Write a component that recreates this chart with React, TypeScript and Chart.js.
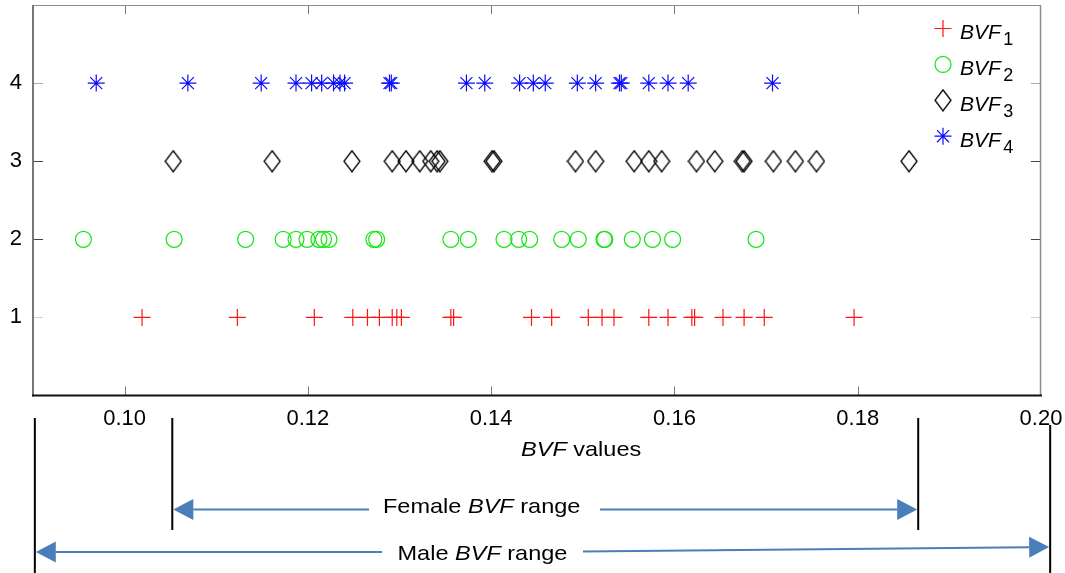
import React, { useEffect, useRef } from 'react';
import { Chart, registerables } from 'chart.js';

Chart.register(...registerables);

const FONT = '"Liberation Sans", Arial, Helvetica, sans-serif';

// ---- data ----
const xTicks = [0.1, 0.12, 0.14, 0.16, 0.18, 0.2];
const yTicks = [1, 2, 3, 4];
const seriesNames = ['BVF1', 'BVF2', 'BVF3', 'BVF4'];

const bvf1 = [0.1019, 0.1123, 0.1207, 0.1249, 0.1265, 0.1278, 0.1292, 0.1297, 0.1302, 0.1356, 0.1359, 0.1444,
  0.1466, 0.1506, 0.1521, 0.1534, 0.1572, 0.1593, 0.1619, 0.1622, 0.1653, 0.1676, 0.1698, 0.1796];
const bvf2 = [0.0955, 0.1054, 0.1132, 0.1173, 0.1187, 0.1199, 0.1212, 0.1217, 0.1223, 0.1272, 0.1275, 0.1356,
  0.1375, 0.1414, 0.143, 0.1442, 0.1477, 0.1495, 0.1523, 0.1524, 0.1554, 0.1576, 0.1598, 0.1689];
const bvf3 = [0.1053, 0.1161, 0.1248, 0.1292, 0.1307, 0.1322, 0.1334, 0.1341, 0.1344, 0.1401, 0.1403, 0.1492,
  0.1514, 0.1556, 0.1572, 0.1586, 0.1624, 0.1644, 0.1674, 0.1676, 0.1708, 0.1732, 0.1755, 0.1856];
const bvf4 = [0.0969, 0.1069, 0.1149, 0.1187, 0.1204, 0.1215, 0.1228, 0.1235, 0.124, 0.1289, 0.1291, 0.1373,
  0.1393, 0.1431, 0.1446, 0.1459, 0.1494, 0.1514, 0.154, 0.1542, 0.1572, 0.1593, 0.1615, 0.1707];

const femaleRange = [0.1052, 0.1866];
const maleRange = [0.0902, 0.201];

const RED = 'rgb(255,20,20)';
const GREEN = 'rgb(20,230,20)';
const BLACK = '#000';
const BLUE = 'rgb(10,10,255)';
const ARROW = '#4A7EBB';

function makeDiamond(w: number, h: number, color: string, lw: number) {
  const c = document.createElement('canvas');
  c.width = w;
  c.height = h;
  const g = c.getContext('2d')!;
  g.strokeStyle = color;
  g.lineWidth = lw;
  g.beginPath();
  g.moveTo(w / 2, 1);
  g.lineTo(w - 1, h / 2);
  g.lineTo(w / 2, h - 1);
  g.lineTo(1, h / 2);
  g.closePath();
  g.stroke();
  return c;
}

function drawMixed(ctx: CanvasRenderingContext2D, parts: { t: string; it?: boolean }[], x: number, y: number, size: number, sx: number) {
  ctx.save();
  ctx.translate(x, y);
  ctx.scale(sx, 1);
  ctx.fillStyle = '#000';
  ctx.textBaseline = 'alphabetic';
  ctx.textAlign = 'left';
  let cx = 0;
  for (const p of parts) {
    ctx.font = `${p.it ? 'italic ' : ''}${size}px ${FONT}`;
    ctx.fillText(p.t, cx, 0);
    cx += ctx.measureText(p.t).width;
  }
  ctx.restore();
}

function arrow(ctx: CanvasRenderingContext2D, x1: number, y1: number, x2: number, y2: number) {
  const len = 20;
  const hw = 10.5;
  const ang = Math.atan2(y2 - y1, x2 - x1);
  const bx = x2 - Math.cos(ang) * len;
  const by = y2 - Math.sin(ang) * len;
  ctx.save();
  ctx.strokeStyle = ARROW;
  ctx.fillStyle = ARROW;
  ctx.lineWidth = 2;
  ctx.beginPath();
  ctx.moveTo(x1, y1);
  ctx.lineTo(bx, by);
  ctx.stroke();
  ctx.beginPath();
  ctx.moveTo(x2, y2);
  ctx.lineTo(bx - Math.sin(ang) * hw, by + Math.cos(ang) * hw);
  ctx.lineTo(bx + Math.sin(ang) * hw, by - Math.cos(ang) * hw);
  ctx.closePath();
  ctx.fill();
  ctx.restore();
}

export default function App() {
  const ref = useRef<HTMLCanvasElement>(null);

  useEffect(() => {
    const canvas = ref.current;
    if (!canvas) return;
    const diamond = makeDiamond(18, 23, BLACK, 1.3);

    const yTickColor = (v: number) => (v === 1 ? '#cfcfcf' : v === 4 ? '#aaaaaa' : '#444');

    const overlay = {
      id: 'overlay',
      beforeDatasetsDraw(chart: any) {
        const { ctx, chartArea: a, scales } = chart;
        const x = scales.x;
        const y = scales.y;
        ctx.save();
        ctx.lineWidth = 1;
        for (const v of xTicks) {
          if (v >= 0.2 - 1e-9) continue;
          const px = Math.round(x.getPixelForValue(v)) + 0.5;
          ctx.strokeStyle = '#777';
          ctx.beginPath();
          ctx.moveTo(px, a.bottom);
          ctx.lineTo(px, a.bottom - 9);
          ctx.moveTo(px, a.top);
          ctx.lineTo(px, a.top + 9);
          ctx.stroke();
        }
        for (const v of yTicks) {
          const py = Math.round(y.getPixelForValue(v)) + 0.5;
          ctx.strokeStyle = yTickColor(v);
          ctx.beginPath();
          ctx.moveTo(a.left, py);
          ctx.lineTo(a.left + 10, py);
          ctx.moveTo(a.right, py);
          ctx.lineTo(a.right - 10, py);
          ctx.stroke();
        }
        // box
        ctx.strokeStyle = '#8c8c8c';
        ctx.lineWidth = 1.2;
        ctx.beginPath();
        ctx.moveTo(a.left, a.top + 0.5);
        ctx.lineTo(a.right, a.top + 0.5);
        ctx.stroke();
        ctx.lineWidth = 1.5;
        ctx.beginPath();
        ctx.moveTo(a.right - 0.5, a.top);
        ctx.lineTo(a.right - 0.5, a.bottom);
        ctx.stroke();
        ctx.strokeStyle = '#777';
        ctx.lineWidth = 2;
        ctx.beginPath();
        ctx.moveTo(a.left, a.top);
        ctx.lineTo(a.left, a.bottom + 1);
        ctx.stroke();
        ctx.strokeStyle = '#111';
        ctx.lineWidth = 2;
        ctx.beginPath();
        ctx.moveTo(a.left - 1, a.bottom);
        ctx.lineTo(a.right + 1, a.bottom);
        ctx.stroke();
        ctx.restore();
      },
      afterDraw(chart: any) {
        const { ctx, scales } = chart;
        const x = scales.x;
        ctx.save();
        // legend
        const lx = 943;
        for (let i = 0; i < 4; i++) {
          const my = 28.5 + i * 35.9;
          ctx.lineWidth = 1.2;
          if (i === 0) {
            ctx.strokeStyle = RED;
            ctx.beginPath();
            ctx.moveTo(lx - 8.5, my);
            ctx.lineTo(lx + 8.5, my);
            ctx.moveTo(lx, my - 8.5);
            ctx.lineTo(lx, my + 8.5);
            ctx.stroke();
          } else if (i === 1) {
            ctx.strokeStyle = GREEN;
            ctx.beginPath();
            ctx.arc(lx, my, 8, 0, Math.PI * 2);
            ctx.stroke();
          } else if (i === 2) {
            ctx.drawImage(diamond, lx - 9, my - 11.5);
          } else {
            ctx.strokeStyle = BLUE;
            const d = 8.5 * Math.SQRT1_2;
            ctx.beginPath();
            ctx.moveTo(lx - 8.5, my);
            ctx.lineTo(lx + 8.5, my);
            ctx.moveTo(lx, my - 8.5);
            ctx.lineTo(lx, my + 8.5);
            ctx.moveTo(lx - d, my - d);
            ctx.lineTo(lx + d, my + d);
            ctx.moveTo(lx - d, my + d);
            ctx.lineTo(lx + d, my - d);
            ctx.stroke();
          }
          const base = my + 10.5;
          ctx.fillStyle = '#000';
          ctx.textAlign = 'left';
          ctx.textBaseline = 'alphabetic';
          ctx.font = `italic 21px ${FONT}`;
          const name = seriesNames[i].slice(0, 3);
          ctx.fillText(name, 960, base);
          const w = ctx.measureText(name).width;
          ctx.font = `18px ${FONT}`;
          ctx.fillText(seriesNames[i].slice(3), 960 + w + 2.5, base + 6);
        }
        ctx.restore();

        // axis title
        drawMixed(ctx, [{ t: 'BVF', it: true }, { t: ' values' }], 521, 456, 21, 1.12);

        // range annotations
        const fx0 = x.getPixelForValue(femaleRange[0]);
        const fx1 = x.getPixelForValue(femaleRange[1]);
        const mx0 = x.getPixelForValue(maleRange[0]);
        const mx1 = x.getPixelForValue(maleRange[1]);
        ctx.save();
        ctx.strokeStyle = '#000';
        ctx.lineWidth = 2;
        ctx.beginPath();
        ctx.moveTo(mx0, 418);
        ctx.lineTo(mx0, 573);
        ctx.moveTo(fx0, 418);
        ctx.lineTo(fx0, 530);
        ctx.moveTo(fx1, 418);
        ctx.lineTo(fx1, 530);
        ctx.moveTo(mx1, 425);
        ctx.lineTo(mx1, 573);
        ctx.stroke();
        ctx.restore();

        arrow(ctx, 369, 509.5, fx0 + 1, 509.5);
        arrow(ctx, 600, 509.5, fx1 - 1, 509.5);
        arrow(ctx, 382, 552, mx0 + 1, 552);
        arrow(ctx, 583, 551.5, mx1 - 1, 547);

        drawMixed(ctx, [{ t: 'Female ' }, { t: 'BVF', it: true }, { t: ' range' }], 383, 513, 21, 1.12);
        drawMixed(ctx, [{ t: 'Male ' }, { t: 'BVF', it: true }, { t: ' range' }], 397.5, 560, 21, 1.12);
      },
    };

    const mk = (arr: number[], yv: number) => arr.map((v) => ({ x: v, y: yv }));
    const noPad = (s: any) => {
      s.paddingLeft = 0;
      s.paddingRight = 0;
      s.paddingTop = 0;
      s.paddingBottom = 0;
    };

    const chart = new Chart(canvas, {
      type: 'scatter',
      data: {
        datasets: [
          {
            label: seriesNames[0],
            data: mk(bvf1, 1),
            pointStyle: 'cross',
            pointRadius: 8.5,
            pointBorderWidth: 1.2,
            borderColor: RED,
            pointBorderColor: RED,
            pointBackgroundColor: 'transparent',
            backgroundColor: 'transparent',
          },
          {
            label: seriesNames[1],
            data: mk(bvf2, 2),
            pointStyle: 'circle',
            pointRadius: 8,
            pointBorderWidth: 1.2,
            borderColor: GREEN,
            pointBorderColor: GREEN,
            pointBackgroundColor: 'transparent',
            backgroundColor: 'transparent',
          },
          {
            label: seriesNames[2],
            data: mk(bvf3, 3),
            pointStyle: diamond as any,
            pointRadius: 9,
            borderColor: BLACK,
            pointBorderColor: BLACK,
            pointBackgroundColor: 'transparent',
            backgroundColor: 'transparent',
          },
          {
            label: seriesNames[3],
            data: mk(bvf4, 4),
            pointStyle: 'star',
            pointRadius: 8.5,
            pointBorderWidth: 1.2,
            borderColor: BLUE,
            pointBorderColor: BLUE,
            pointBackgroundColor: 'transparent',
            backgroundColor: 'transparent',
          },
        ],
      },
      options: {
        animation: false,
        responsive: false,
        events: [],
        layout: { autoPadding: false, padding: { top: 5, right: 24, left: 0, bottom: 0 } },
        plugins: {
          legend: { display: false },
          tooltip: { enabled: false },
        },
        scales: {
          x: {
            type: 'linear',
            position: 'bottom',
            min: 0.09,
            max: 0.2,
            grid: { display: false, drawTicks: false },
            border: { display: false },
            afterBuildTicks: (s: any) => {
              s.ticks = xTicks.map((v) => ({ value: v }));
            },
            afterFit: (s: any) => {
              s.height = 177.5;
              noPad(s);
            },
            ticks: {
              padding: 10,
              autoSkip: false,
              maxRotation: 0,
              color: '#000',
              font: { size: 22, family: FONT },
              callback: (v: any) => Number(v).toFixed(2),
            },
          },
          y: {
            type: 'linear',
            min: 0,
            max: 5,
            grid: { display: false, drawTicks: false },
            border: { display: false },
            afterBuildTicks: (s: any) => {
              s.ticks = yTicks.map((v) => ({ value: v }));
            },
            afterFit: (s: any) => {
              s.width = 33;
              noPad(s);
            },
            ticks: {
              padding: 11,
              autoSkip: false,
              color: '#000',
              font: { size: 22, family: FONT },
              callback: (v: any) => String(v),
            },
          },
        },
      },
      plugins: [overlay],
    });

    return () => chart.destroy();
  }, []);

  return (
    <div style={{ position: 'absolute', left: 0, top: 0, width: 1065, height: 573, background: '#fff' }}>
      <canvas ref={ref} width={1065} height={573} style={{ display: 'block', width: 1065, height: 573 }} />
    </div>
  );
}
